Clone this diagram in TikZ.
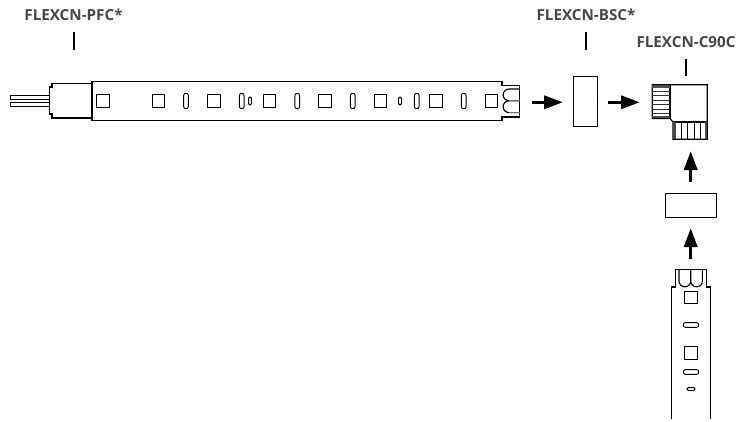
\documentclass[tikz,border=0pt]{standalone}
\usepackage{fontspec}
\setmainfont{Open Sans}
\usepackage{tikz}
\usetikzlibrary{arrows.meta}
\tikzset{
    partlabel/.style={font=\fontsize{11.4}{13}\selectfont\bfseries, text=black!72, inner sep=0pt},
    pointer/.style={line width=1.5pt},
    flow/.style={line width=1.9pt, -{Triangle[length=14pt,width=10pt]}, shorten >=-0.5pt},
    outline/.style={line width=0.85pt, line join=miter},
    thin part/.style={line width=0.6pt},
    led/.style={draw, line width=0.85pt, minimum width=9.6pt, minimum height=9.2pt, inner sep=0pt},
    ledup/.style={draw, line width=0.85pt, minimum width=9.2pt, minimum height=9.6pt, inner sep=0pt},
    res/.style={draw, line width=0.7pt, rounded corners=1.7pt, minimum width=3.6pt, minimum height=11.6pt, inner sep=0pt},
    resup/.style={draw, line width=0.7pt, rounded corners=1.7pt, minimum width=11.6pt, minimum height=3.6pt, inner sep=0pt},
    ressmall/.style={draw, line width=0.7pt, rounded corners=1pt, minimum width=2.2pt, minimum height=6pt, inner sep=0pt},
    ressmallup/.style={draw, line width=0.7pt, rounded corners=1pt, minimum width=6pt, minimum height=2.2pt, inner sep=0pt},
    block/.style={draw, line width=0.6pt, inner sep=0pt}
}
\begin{document}
\begin{tikzpicture}[x=0.75pt, y=-0.75pt]
    \useasboundingbox (0,0) rectangle (738,421);

    % labels
    \node[partlabel] (pfc) at (73.5,15) {FLEXCN-PFC*};
    \node[partlabel] (bsc) at (586,15) {FLEXCN-BSC*};
    \node[partlabel] (c90) at (686,42.5) {FLEXCN-C90C};
    \coordinate (pfctop) at (73.5,31.5);
    \coordinate (pfcend) at (73.5,49.5);
    \coordinate (bsctop) at (585.7,31.5);
    \coordinate (bscend) at (585.7,49.5);
    \coordinate (c90top) at (685.7,58.5);
    \coordinate (c90end) at (685.7,76);
    \draw[pointer] (pfctop) -- (pfcend);
    \draw[pointer] (bsctop) -- (bscend);
    \draw[pointer] (c90top) -- (c90end);

    % long strip
    \draw[thin part] (10,95) -- (50,95) (10,99.5) -- (50,99.5);
    \draw[thin part] (10,102.5) -- (50,102.5) (10,106.7) -- (50,106.7) (10,95) -- (10,99.5) (10,102.5) -- (10,106.7);
    \draw[outline] (92,83.5) -- (52,83.5) -- (52,87) -- (49.5,87) -- (49.5,114) -- (52,114) -- (52,118) -- (92,118);
    \draw[outline, densely dashed] (92,83.5) -- (92,118);
    \draw[outline] (92,120.3) -- (92,81.7) -- (502,81.7) -- (502,85.5) -- (519.7,85.5) -- (519.7,117) -- (502,117) -- (502,120.3) -- cycle;
    \draw[outline] (519.7,89) -- (509,89) arc[start angle=270, end angle=90, radius=5.9] -- (519.7,100.8);
    \draw[outline] (509,100.8) arc[start angle=270, end angle=90, radius=5.9] -- (519.7,112.6);
    \draw[thin part, black!55] (509,100.8) -- (519.7,100.8) (509,112.8) -- (519.7,112.8);

    \node[led] (s1) at (103,101) {};
    \node[led] (s2) at (158.5,101) {};
    \node[led] (s3) at (214,101) {};
    \node[led] (s4) at (269.5,101) {};
    \node[led] (s5) at (325,101) {};
    \node[led] (s6) at (380.5,101) {};
    \node[led] (s7) at (436,101) {};
    \node[led] (s8) at (491.5,101) {};
    \node[res] (r1) at (186,101) {};
    \node[res] (r2) at (241.7,101) {};
    \node[res] (r3) at (297.3,101) {};
    \node[res] (r4) at (352.7,101) {};
    \node[res] (r5) at (416.7,101) {};
    \node[res] (r6) at (463.7,101) {};
    \node[ressmall] (d1) at (250,101) {};
    \node[ressmall] (d2) at (400,101) {};

    % splice boxes
    \node[block, minimum width=18.5pt, minimum height=37.5pt] (bscbox) at (585.3,101) {};
    \node[block, minimum width=38pt, minimum height=18.5pt] (joinbox) at (690.7,205.3) {};
    \draw[thin part] (bscbox.west) -- ++(1.5,0) (bscbox.east) -- ++(-1.5,0);
    \draw[thin part] (joinbox.north) -- ++(0,1.5) (joinbox.south) -- ++(0,-1.5);

    % corner connector
    \draw[outline] (652.3,84.7) -- (707.3,84.7) -- (707.3,139.3) -- (673,139.3) -- (673,122) -- (670,118.5) -- (652.3,118.5) -- cycle;
    \draw[outline] (670,84.7) -- (670,118.5) (673,122) -- (707.3,122);
    \draw[line width=1.6pt, black!70] (652.3,86.5) -- (670,86.5) (652.3,117) -- (670,117) (674.5,122) -- (674.5,139.3) (705.8,122) -- (705.8,139.3);
    \draw[thin part, black!80] (652.3,91.5) -- (670,91.5) (652.3,95) -- (670,95);
    \draw[thin part, black!80] (652.3,100.5) -- (670,100.5) (652.3,104) -- (670,104);
    \draw[thin part, black!80] (652.3,109.5) -- (670,109.5) (652.3,113) -- (670,113);
    \draw[thin part] (681,122) -- (681,139.3) (687.5,122) -- (687.5,139.3);
    \draw[thin part] (694,122) -- (694,139.3) (700.5,122) -- (700.5,139.3);

    % arrows
    \coordinate (a1) at (532,102.3);
    \coordinate (a2) at (608,102.3);
    \coordinate (a3) at (639,102.3);
    \coordinate (a4) at (690.7,182.3);
    \coordinate (a5) at (690.7,152);
    \coordinate (a6) at (690.7,259.3);
    \coordinate (a7) at (690.7,229);
    \coordinate (a8) at (562,102.3);
    \draw[flow] (a1) -- (a8);
    \draw[flow] (a2) -- (a3);
    \draw[flow] (a4) -- (a5);
    \draw[flow] (a6) -- (a7);

    % short strip
    \draw[outline] (671.3,419.3) -- (671.3,287) -- (675.3,287) -- (675.3,269.3) -- (706.7,269.3) -- (706.7,287) -- (710.3,287) -- (710.3,419.3);
    \draw[outline] (679,269.3) -- (679,281) arc[start angle=180, end angle=0, radius=5.85] -- (690.7,269.3);
    \draw[outline] (690.7,281) arc[start angle=180, end angle=0, radius=5.85] -- (702.4,269.3);

    \node[ledup] (u1) at (691,297.5) {};
    \node[ledup] (u2) at (691,352.8) {};
    \node[resup] (q1) at (691,325) {};
    \node[resup] (q2) at (691,372) {};
    \node[ressmallup] (e1) at (691,389) {};
\end{tikzpicture}
\end{document}
